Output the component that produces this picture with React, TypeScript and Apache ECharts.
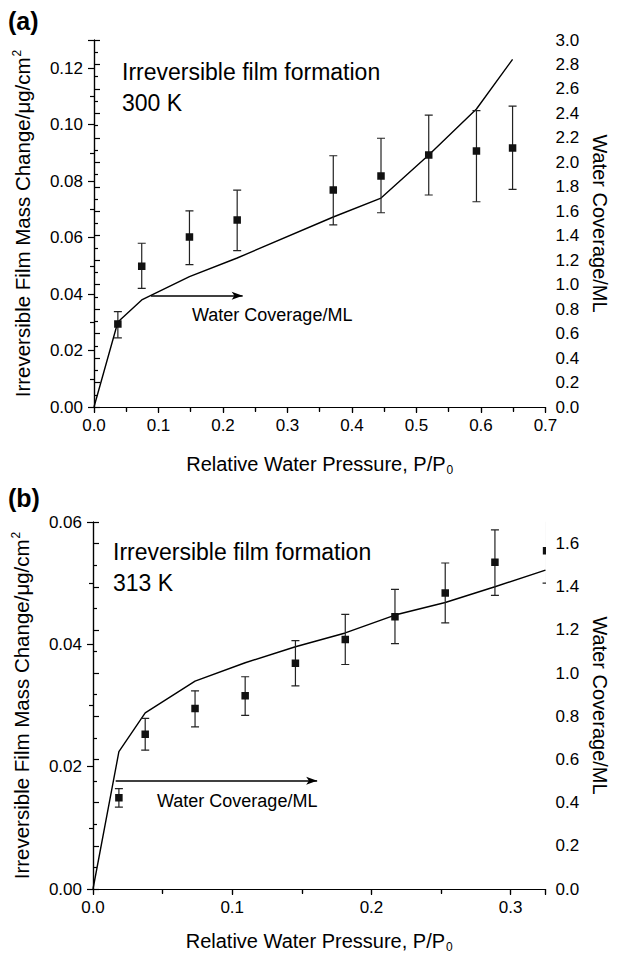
import React, { useEffect, useRef } from "react";
import * as echarts from "echarts";

const FONT = "'Liberation Sans', Arial, Helvetica, sans-serif";

// ---------- Panel (a): 300 K ----------
const aPressure = [0.037, 0.074, 0.148, 0.222, 0.371, 0.445, 0.519, 0.593, 0.649];
const aMass = [0.0294, 0.0499, 0.0602, 0.0662, 0.0769, 0.0818, 0.0893, 0.0907, 0.0917];
const aMassLow = [0.0245, 0.042, 0.0504, 0.0554, 0.0645, 0.0688, 0.0751, 0.0727, 0.0771];
const aMassHigh = [0.0338, 0.058, 0.0695, 0.0768, 0.089, 0.0952, 0.1034, 0.105, 0.1066];
const aLinePressure = [0, 0.037, 0.074, 0.148, 0.222, 0.371, 0.445, 0.519, 0.593, 0.649];
const aCoverage = [0, 0.695, 0.875, 1.065, 1.218, 1.553, 1.708, 2.06, 2.436, 2.842];
const aArrowX = [0.0884, 0.2305];
const aArrowY = 0.0394;

// ---------- Panel (b): 313 K ----------
const bPressure = [0.0186, 0.0375, 0.0733, 0.1093, 0.1454, 0.1812, 0.2169, 0.253, 0.2887, 0.3258];
const bMass = [0.0149, 0.0253, 0.0295, 0.0316, 0.0369, 0.0408, 0.0445, 0.0484, 0.0534, 0.0553];
const bMassLow = [0.0134, 0.0227, 0.0265, 0.0284, 0.0332, 0.0367, 0.0401, 0.0435, 0.048, 0.05];
const bMassHigh = [0.0164, 0.0279, 0.0324, 0.0347, 0.0406, 0.0449, 0.049, 0.0533, 0.0587, 0.0606];
const bLinePressure = [0, 0.0186, 0.0375, 0.0733, 0.1093, 0.1454, 0.1812, 0.2169, 0.253, 0.2887, 0.325];
const bCoverage = [0, 0.636, 0.816, 0.963, 1.048, 1.122, 1.186, 1.269, 1.327, 1.4, 1.477];
const bArrowX = [0.0163, 0.161];
const bArrowY = 0.0177;

// ---------- Text ----------
const xName = "{m|Relative Water Pressure, P/P}{sub|0}";
const yLeftName = "{m|Irreversible Film Mass Change/\u03bcg/cm}{sup|2}";
const yRightName = "Water Coverage/ML";
const titleLine = "Irreversible film formation";
const aTemp = "300 K";
const bTemp = "313 K";
const arrowLabel = "Water Coverage/ML";

const zip = (xs: number[], ys: number[]) => xs.map((x, i) => [x, ys[i]]);
const pts = (xs: number[], ys: number[], lo: number[], hi: number[]) =>
  xs.map((x, i) => [x, ys[i], lo[i], hi[i]]);

const renderPoint = (_params: any, api: any) => {
  const x = api.value(0);
  const c = api.coord([x, api.value(1)]);
  const lo = api.coord([x, api.value(2)]);
  const hi = api.coord([x, api.value(3)]);
  const cap = 4;
  const s = 7.5;
  const stroke = { stroke: "#222", lineWidth: 1.2 };
  return {
    type: "group",
    children: [
      { type: "line", shape: { x1: c[0], y1: lo[1], x2: c[0], y2: hi[1] }, style: stroke },
      { type: "line", shape: { x1: c[0] - cap, y1: hi[1], x2: c[0] + cap, y2: hi[1] }, style: stroke },
      { type: "line", shape: { x1: c[0] - cap, y1: lo[1], x2: c[0] + cap, y2: lo[1] }, style: stroke },
      { type: "rect", shape: { x: c[0] - s / 2, y: c[1] - s / 2, width: s, height: s }, style: { fill: "#111" } },
    ],
  };
};

const axisLineStyle = { show: true, lineStyle: { color: "#000", width: 1.2 } };
const tickLabel = { color: "#000", fontSize: 17, fontFamily: FONT };

function bottomX(grid: number, max: number) {
  return {
    type: "value",
    gridIndex: grid,
    position: "bottom",
    min: 0,
    max,
    interval: 0.1,
    axisLine: axisLineStyle,
    axisTick: { show: true, inside: false, length: 6, lineStyle: { color: "#000", width: 1.2 } },
    minorTick: { show: true, splitNumber: 2, length: 4, lineStyle: { color: "#000", width: 1.2 } },
    splitLine: { show: false },
    axisLabel: { ...tickLabel, margin: 10, showMaxLabel: max === 0.7, formatter: (v: number) => v.toFixed(1) },
    name: xName,
    nameLocation: "middle",
    nameGap: grid === 0 ? 47 : 42,
    nameTextStyle: {
      color: "#000",
      fontFamily: FONT,
      rich: {
        m: { fontSize: 20, fontFamily: FONT, color: "#000", lineHeight: 22, verticalAlign: "top" },
        sub: { fontSize: 12, fontFamily: FONT, color: "#000", lineHeight: 12, verticalAlign: "bottom", padding: [17, 0, 0, 1] },
      },
    },
  };
}

function topX(grid: number, max: number) {
  return {
    type: "value",
    gridIndex: grid,
    position: "top",
    min: 0,
    max,
    interval: 0.05,
    axisLine: axisLineStyle,
    axisTick: { show: true, inside: true, length: 5, lineStyle: { color: "#000", width: 1.2 } },
    splitLine: { show: false },
    axisLabel: { show: false },
  };
}

function leftY(grid: number, max: number) {
  return {
    type: "value",
    gridIndex: grid,
    position: "left",
    min: 0,
    max,
    interval: 0.02,
    axisLine: axisLineStyle,
    axisTick: { show: true, inside: false, length: 6, lineStyle: { color: "#000", width: 1.2 } },
    minorTick: { show: true, splitNumber: 2, length: 4, lineStyle: { color: "#000", width: 1.2 } },
    splitLine: { show: false },
    axisLabel: { ...tickLabel, margin: 11, showMaxLabel: max === 0.06, formatter: (v: number) => v.toFixed(2) },
    name: yLeftName,
    nameLocation: "middle",
    nameRotate: 90,
    nameGap: 54,
    nameTextStyle: {
      color: "#000",
      fontFamily: FONT,
      rich: {
        m: { fontSize: 20.5, fontFamily: FONT, color: "#000", lineHeight: 22, verticalAlign: "bottom" },
        sup: { fontSize: 12, fontFamily: FONT, color: "#000", lineHeight: 12, verticalAlign: "top", padding: [0, 0, 16, 1] },
      },
    },
  };
}

function rightY(grid: number, max: number) {
  return {
    type: "value",
    gridIndex: grid,
    position: "right",
    min: 0,
    max,
    interval: 0.2,
    axisLine: axisLineStyle,
    axisTick: { show: true, inside: false, length: 6, lineStyle: { color: "#000", width: 1.2 } },
    minorTick: { show: true, splitNumber: 2, length: 4, lineStyle: { color: "#000", width: 1.2 } },
    splitLine: { show: false },
    axisLabel: { ...tickLabel, margin: 10, showMaxLabel: max === 3.0, formatter: (v: number) => v.toFixed(1) },
    name: yRightName,
    nameLocation: "middle",
    nameRotate: -90,
    nameGap: 33,
    nameTextStyle: { color: "#000", fontSize: 20, fontFamily: FONT },
  };
}

function arrowSeries(xAxisIndex: number, yAxisIndex: number, xs: number[], y: number) {
  return {
    type: "line",
    xAxisIndex,
    yAxisIndex,
    data: xs.map((x) => [x, y]),
    symbol: "none",
    lineStyle: { opacity: 0 },
    silent: true,
    markLine: {
      silent: true,
      animation: false,
      symbol: ["none", "arrow"],
      symbolSize: [6, 11],
      label: { show: false },
      lineStyle: { color: "#000", width: 1.5, type: "solid" },
      emphasis: { disabled: true },
      data: [[{ coord: [xs[0], y] }, { coord: [xs[1], y] }]],
    },
  };
}

function txt(x: number, y: number, text: string, size: number, bold = false) {
  return {
    type: "text",
    x,
    y,
    silent: true,
    style: {
      text,
      fill: "#000",
      fontSize: size,
      fontFamily: FONT,
      fontWeight: bold ? "bold" : "normal",
      align: "left",
      verticalAlign: "middle",
    },
  };
}

export default function App() {
  const ref = useRef<HTMLDivElement>(null);
  useEffect(() => {
    if (!ref.current) return;
    const chart = echarts.init(ref.current, undefined, { renderer: "svg" });
    chart.setOption({
      animation: false,
      backgroundColor: "#fff",
      grid: [
        { left: 94, top: 40, width: 457, height: 367, containLabel: false },
        { left: 93, top: 522, width: 458, height: 367, containLabel: false },
      ],
      xAxis: [bottomX(0, 0.7), topX(0, 0.7), bottomX(1, 0.325), topX(1, 0.325)],
      yAxis: [leftY(0, 0.13), rightY(0, 3.0), leftY(1, 0.06), rightY(1, 1.7)],
      series: [
        {
          type: "line",
          xAxisIndex: 0,
          yAxisIndex: 1,
          data: zip(aLinePressure, aCoverage),
          symbol: "none",
          lineStyle: { color: "#000", width: 1.4 },
          silent: true,
        },
        {
          type: "custom",
          xAxisIndex: 0,
          yAxisIndex: 0,
          clip: true,
          lineStyle: { width: 0.5 },
          renderItem: renderPoint,
          encode: { x: 0, y: 1 },
          data: pts(aPressure, aMass, aMassLow, aMassHigh),
          silent: true,
          z: 4,
        },
        arrowSeries(0, 0, aArrowX, aArrowY),
        {
          type: "line",
          xAxisIndex: 2,
          yAxisIndex: 3,
          data: zip(bLinePressure, bCoverage),
          symbol: "none",
          lineStyle: { color: "#000", width: 1.4 },
          silent: true,
        },
        {
          type: "custom",
          xAxisIndex: 2,
          yAxisIndex: 2,
          clip: true,
          lineStyle: { width: 0.5 },
          renderItem: renderPoint,
          encode: { x: 0, y: 1 },
          data: pts(bPressure, bMass, bMassLow, bMassHigh),
          silent: true,
          z: 4,
        },
        arrowSeries(2, 2, bArrowX, bArrowY),
      ],
      graphic: [
        txt(8, 21, "(a)", 25, true),
        txt(122, 72, titleLine, 23),
        txt(122, 103, aTemp, 23),
        txt(192, 315, arrowLabel, 18),
        txt(8, 498, "(b)", 25, true),
        txt(113, 552, titleLine, 23),
        txt(113, 583, bTemp, 23),
        txt(157, 801, arrowLabel, 18),
      ],
    });
    return () => chart.dispose();
  }, []);
  return (
    <div
      ref={ref}
      style={{ position: "absolute", left: 0, top: 0, width: 618, height: 956, background: "#fff" }}
    />
  );
}
